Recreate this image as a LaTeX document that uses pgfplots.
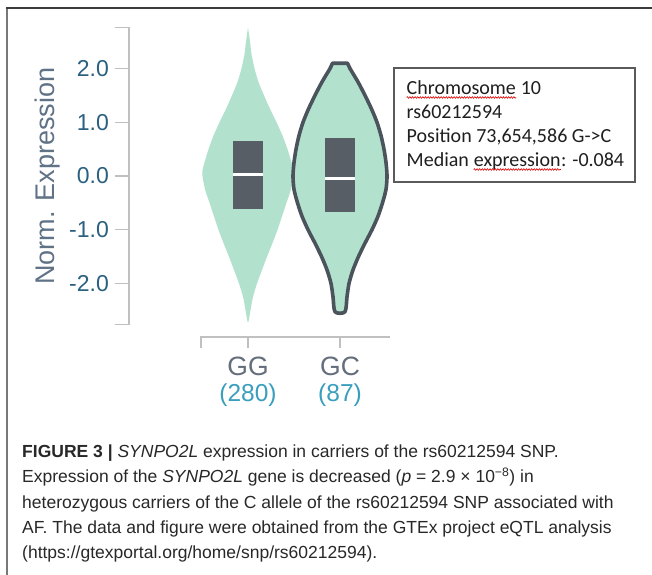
\documentclass[border=0pt]{standalone}
\usepackage{fontspec}
\setmainfont{Liberation Sans}
\newfontfamily\calibri{Carlito}
\usepackage{pgfplots}
\pgfplotsset{compat=1.18}
\usetikzlibrary{decorations.pathmorphing}
\definecolor{mint}{RGB}{178,226,205}
\definecolor{boxgray}{RGB}{87,94,102}
\definecolor{outl}{RGB}{75,84,92}
\definecolor{axisgray}{RGB}{192,192,192}
\definecolor{ticklab}{RGB}{42,96,128}
\definecolor{ylabcol}{RGB}{96,114,134}
\definecolor{catcol}{RGB}{100,110,125}
\definecolor{ncol}{RGB}{58,158,190}
\definecolor{capcol}{RGB}{40,40,40}
\definecolor{frametop}{RGB}{60,60,60}
\definecolor{frameleft}{RGB}{120,120,120}
\definecolor{boxborder}{RGB}{90,90,90}
\begin{document}
\begin{tikzpicture}[x=1bp,y=1bp]
\useasboundingbox (0,0) rectangle (652,575);
\fill[white] (0,0) rectangle (652,575);
\draw[frameleft, line width=1.3bp] (7,0) -- (7,567);
\draw[frametop, line width=1.6bp] (6.4,567) -- (652,567);

\begin{axis}[
  at={(248bp,399bp)}, anchor=origin,
  x=92bp, y=53.7bp,
  xmin=-1.293, xmax=1.6, ymin=-2.77, ymax=2.77,
  clip=false,
  axis y line*=left, axis x line=none,
  xtick=\empty,
  ytick={-2,-1,0,1,2}, yticklabels={-2.0,-1.0,0.0,1.0,2.0},
  extra y ticks={-2.77,2.77}, extra y tick labels={},
  tick align=outside, major tick length=14bp,
  axis line style={draw=axisgray, line width=1.3bp},
  tick style={draw=axisgray, line width=1.3bp},
  yticklabel style={font=\fontsize{23bp}{23bp}\selectfont, text=ticklab, inner sep=6bp},
  ylabel={Norm. Expression},
  ylabel style={font=\fontsize{27bp}{27bp}\selectfont, text=ylabcol, at={(rel axis cs:-0.3080,0.5)}, anchor=center},
]
% GG violin
\addplot[fill=mint, draw=none, smooth, tension=0.5] coordinates {
(0,2.76) (0.022,2.5) (0.040,2.25) (0.071,2.0) (0.114,1.75) (0.174,1.5) (0.239,1.25)
(0.310,1.0) (0.375,0.75) (0.429,0.5) (0.473,0.25) (0.495,0.1) (0.495,0.0) (0.467,-0.25)
(0.418,-0.5) (0.370,-0.75) (0.321,-1.0) (0.266,-1.25) (0.207,-1.5) (0.152,-1.75)
(0.098,-2.0) (0.054,-2.25) (0.027,-2.5) (0,-2.73)
(-0.027,-2.5) (-0.054,-2.25) (-0.098,-2.0) (-0.152,-1.75) (-0.207,-1.5) (-0.266,-1.25)
(-0.321,-1.0) (-0.370,-0.75) (-0.418,-0.5) (-0.467,-0.25) (-0.495,0.0) (-0.495,0.1)
(-0.473,0.25) (-0.429,0.5) (-0.375,0.75) (-0.310,1.0) (-0.239,1.25) (-0.174,1.5)
(-0.114,1.75) (-0.071,2.0) (-0.040,2.25) (-0.022,2.5) (0,2.76)
} -- cycle;
% GC violin
\addplot[fill=mint, draw=outl, line width=3.6bp, smooth, tension=0.45, line join=round] coordinates {
(1.082,2.1) (1.109,2.0) (1.196,1.75) (1.272,1.5) (1.342,1.25) (1.402,1.0) (1.446,0.75)
(1.478,0.5) (1.500,0.25) (1.511,0.0) (1.500,-0.25) (1.462,-0.5) (1.413,-0.75) (1.348,-1.0)
(1.272,-1.25) (1.201,-1.5) (1.141,-1.75) (1.098,-2.0) (1.076,-2.25) (1.054,-2.53)
(0.946,-2.53) (0.924,-2.25) (0.902,-2.0) (0.859,-1.75) (0.799,-1.5) (0.728,-1.25)
(0.652,-1.0) (0.587,-0.75) (0.538,-0.5) (0.500,-0.25) (0.489,0.0) (0.500,0.25)
(0.522,0.5) (0.554,0.75) (0.598,1.0) (0.658,1.25) (0.728,1.5) (0.804,1.75) (0.891,2.0)
(0.918,2.1)
} -- cycle;
% boxes
\addplot[fill=boxgray, draw=none] coordinates {(-0.163,-0.62) (0.163,-0.62) (0.163,0.65) (-0.163,0.65)} -- cycle;
\addplot[white, line width=3.2bp] coordinates {(-0.163,0.03) (0.163,0.03)};
\addplot[fill=boxgray, draw=none] coordinates {(0.837,-0.67) (1.163,-0.67) (1.163,0.71) (0.837,0.71)} -- cycle;
\addplot[white, line width=3.2bp] coordinates {(0.837,-0.04) (1.163,-0.04)};
% x axis bracket
\draw[axisgray, line width=1.3bp] (axis cs:-0.511,-3.2) -- (axis cs:-0.511,-3.0) -- (axis cs:1.543,-3.0);
\draw[axisgray, line width=1.3bp] (axis cs:0,-3.0) -- (axis cs:0,-3.2);
\draw[axisgray, line width=1.3bp] (axis cs:1,-3.0) -- (axis cs:1,-3.2);
\node[text=catcol, font=\fontsize{26.5bp}{26.5bp}\selectfont] at (axis cs:0,-3.54) {GG};
\node[text=catcol, font=\fontsize{26.5bp}{26.5bp}\selectfont] at (axis cs:1,-3.54) {GC};
\node[text=ncol, font=\fontsize{24.5bp}{24.5bp}\selectfont] at (axis cs:0,-4.08) {(280)};
\node[text=ncol, font=\fontsize{24.5bp}{24.5bp}\selectfont] at (axis cs:1,-4.08) {(87)};
\end{axis}

% info box
\draw[boxborder, line width=1.6bp] (394,393) rectangle (635,507);
\begin{scope}[every node/.style={inner sep=0pt, anchor=base west, font=\calibri\fontsize{20bp}{24bp}\selectfont, text=black!88}]
\node (c1) at (406.5,480.5) {Chromosome};
\node at (c1.base east) {\ 10};
\node at (406.5,456.5) {rs60212594};
\node at (406.5,432.5) {Position 73,654,586 G->C};
\node (m1) at (406.5,408.5) {Median};
\node (m2) at ([xshift=4.5bp]m1.base east) {expression};
\node at (m2.base east) {: -0.084};
\end{scope}
\draw[red!85!black, line width=0.6bp, decorate, decoration={snake, amplitude=0.8bp, segment length=2.6bp}] ([yshift=-3bp]c1.base west) -- ([yshift=-3bp]c1.base east);
\draw[red!85!black, line width=0.6bp, decorate, decoration={snake, amplitude=0.8bp, segment length=2.6bp}] ([yshift=-3bp]m2.base west) -- ([yshift=-3bp]m2.base east);

% caption
\begin{scope}[every node/.style={inner sep=0pt, anchor=base west, font=\fontsize{17.5bp}{25bp}\selectfont, text=capcol}]
\node at (22,117) {\textbf{FIGURE 3 |} \textit{SYNPO2L} expression in carriers of the rs60212594 SNP.};
\node at (22,92) {Expression of the \textit{SYNPO2L} gene is decreased (\textit{p} = 2.9 × 10\textsuperscript{−8}) in};
\node at (22,66.5) {heterozygous carriers of the C allele of the rs60212594 SNP associated with};
\node at (22,41) {AF. The data and figure were obtained from the GTEx project eQTL analysis};
\node at (22,16.5) {(https://gtexportal.org/home/snp/rs60212594).};
\end{scope}
\end{tikzpicture}
\end{document}
